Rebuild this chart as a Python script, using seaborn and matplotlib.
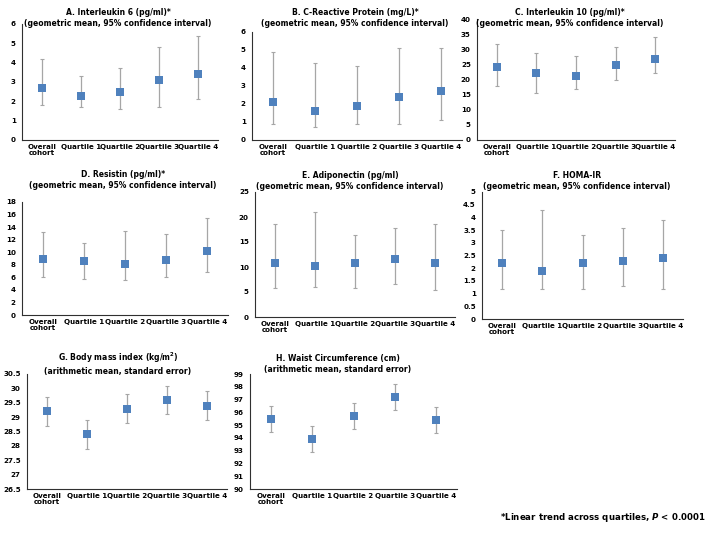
import matplotlib
matplotlib.use("Agg")
import matplotlib.pyplot as plt
import seaborn as sns
import pandas as pd
import numpy as np

sns.set_style("white")
plt.rcParams['font.family'] = ['DejaVu Sans']
plt.rcParams['text.color'] = 'black'
plt.rcParams['xtick.color'] = 'black'
plt.rcParams['ytick.color'] = 'black'

categories = ["Overall\ncohort", "Quartile 1", "Quartile 2", "Quartile 3", "Quartile 4"]

il6_mean = [2.7, 2.3, 2.5, 3.1, 3.4]
il6_low = [1.8, 1.7, 1.6, 1.7, 2.1]
il6_high = [4.2, 3.3, 3.7, 4.8, 5.4]

crp_mean = [2.1, 1.6, 1.9, 2.4, 2.7]
crp_low = [0.9, 0.7, 0.9, 0.9, 1.1]
crp_high = [4.9, 4.3, 4.1, 5.1, 5.1]

il10_mean = [24.1, 22.2, 21.0, 24.9, 26.8]
il10_low = [18.0, 15.6, 17.0, 20.0, 22.0]
il10_high = [31.9, 28.6, 27.9, 30.9, 34.2]

res_mean = [9.0, 8.6, 8.1, 8.8, 10.2]
res_low = [6.1, 5.8, 5.5, 6.1, 6.9]
res_high = [13.2, 11.4, 13.4, 12.9, 15.4]

adi_mean = [10.8, 10.2, 10.9, 11.7, 10.8]
adi_low = [5.8, 6.0, 5.9, 6.7, 5.4]
adi_high = [18.7, 21.1, 16.4, 17.8, 18.7]

homa_mean = [2.2, 1.9, 2.2, 2.3, 2.4]
homa_low = [1.2, 1.2, 1.2, 1.3, 1.2]
homa_high = [3.5, 4.3, 3.3, 3.6, 3.9]

bmi_mean = [29.2, 28.4, 29.3, 29.6, 29.4]
bmi_low = [28.7, 27.9, 28.8, 29.1, 28.9]
bmi_high = [29.7, 28.9, 29.8, 30.1, 29.9]

waist_mean = [95.5, 93.9, 95.7, 97.2, 95.4]
waist_low = [94.5, 92.9, 94.7, 96.2, 94.4]
waist_high = [96.5, 94.9, 96.7, 98.2, 96.4]

titles = [
    "A. Interleukin 6 (pg/ml)*\n(geometric mean, 95% confidence interval)",
    "B. C-Reactive Protein (mg/L)*\n(geometric mean, 95% confidence interval)",
    "C. Interleukin 10 (pg/ml)*\n(geometric mean, 95% confidence interval)",
    "D. Resistin (pg/ml)*\n(geometric mean, 95% confidence interval)",
    "E. Adiponectin (pg/ml)\n(geometric mean, 95% confidence interval)",
    "F. HOMA-IR\n(geometric mean, 95% confidence interval)",
    "G. Body mass index (kg/m$^\\mathbf{2}$)\n(arithmetic mean, standard error)",
    "H. Waist Circumference (cm)\n(arithmetic mean, standard error)",
]

W, H = 710, 534
fig = plt.figure(figsize=(W / 100, H / 100), dpi=100)

# (x0, x1, y_top, y_bottom) in pixels, title center (x, y_mid)
panels = [
    ((22, 218, 24, 140), (118, 18), il6_mean, il6_low, il6_high, (0, 6), 1),
    ((252, 462, 32, 140), (355, 18), crp_mean, crp_low, crp_high, (0, 6), 1),
    ((477, 675, 19, 140), (570, 18), il10_mean, il10_low, il10_high, (0, 40), 5),
    ((22, 228, 202, 315), (123, 180), res_mean, res_low, res_high, (0, 18), 2),
    ((255, 455, 192, 317), (350, 181), adi_mean, adi_low, adi_high, (0, 25), 5),
    ((482, 683, 192, 319), (577, 181), homa_mean, homa_low, homa_high, (0, 5), 0.5),
    ((27, 227, 374, 489), (118, 363), bmi_mean, bmi_low, bmi_high, (26.5, 30.5), 0.5),
    ((250, 457, 374, 489), (338, 364), waist_mean, waist_low, waist_high, (90, 99), 1),
]

blue = "#4F81BD"
grey = "#A6A6A6"
fs_tick = 5.1
fs_title = 5.5

for (box, tpos, mean, low, high, ylim, step), title in zip(panels, titles):
    x0, x1, yt, yb = box
    ax = fig.add_axes([x0 / W, 1 - yb / H, (x1 - x0) / W, (yb - yt) / H])
    df = pd.DataFrame({"cat": categories, "pos": np.arange(len(categories)),
                       "mean": mean, "low": low, "high": high})
    ax.errorbar(df["pos"], df["mean"],
                yerr=[df["mean"] - df["low"], df["high"] - df["mean"]],
                fmt="none", ecolor=grey, elinewidth=0.9, capsize=1.3, capthick=0.8, zorder=2)
    sns.scatterplot(data=df, x="pos", y="mean", marker="s", s=34, color=blue,
                    edgecolor=blue, linewidth=0, ax=ax, zorder=3)
    ax.set_xlim(-0.5, 4.5)
    ax.set_ylim(*ylim)
    yt_vals = np.arange(ylim[0], ylim[1] + step / 2, step)
    ax.set_yticks(yt_vals)
    ax.set_yticklabels(["{:g}".format(round(v, 2)) for v in yt_vals],
                       fontsize=fs_tick, fontweight="bold")
    ax.set_xticks(np.arange(5))
    ax.set_xticklabels(categories, fontsize=fs_tick, fontweight="bold", linespacing=1.0)
    ax.set_xticks(np.arange(-0.5, 5, 1), minor=True)
    ax.tick_params(axis="x", which="major", length=0, pad=3)
    ax.tick_params(axis="x", which="minor", length=3, width=0.8, color="#303030", direction="out")
    ax.tick_params(axis="y", length=2.5, width=0.8, color="#303030", direction="out", pad=2)
    ax.set_xlabel("")
    ax.set_ylabel("")
    for s in ["top", "right"]:
        ax.spines[s].set_visible(False)
    for s in ["left", "bottom"]:
        ax.spines[s].set_color("#303030")
        ax.spines[s].set_linewidth(0.8)
    ax.set_facecolor("white")
    ax.grid(False)
    fig.text(tpos[0] / W, 1 - tpos[1] / H, title, ha="center", va="center",
             fontsize=fs_title, fontweight="bold", linespacing=1.3)

fig.text(706 / W, 1 - 518 / H, "*Linear trend across quartiles, $\\boldsymbol{P}$ < 0.0001",
         ha="right", va="center", fontsize=6.2, fontweight="bold")

fig.savefig("out.png", dpi=100, facecolor="white")
